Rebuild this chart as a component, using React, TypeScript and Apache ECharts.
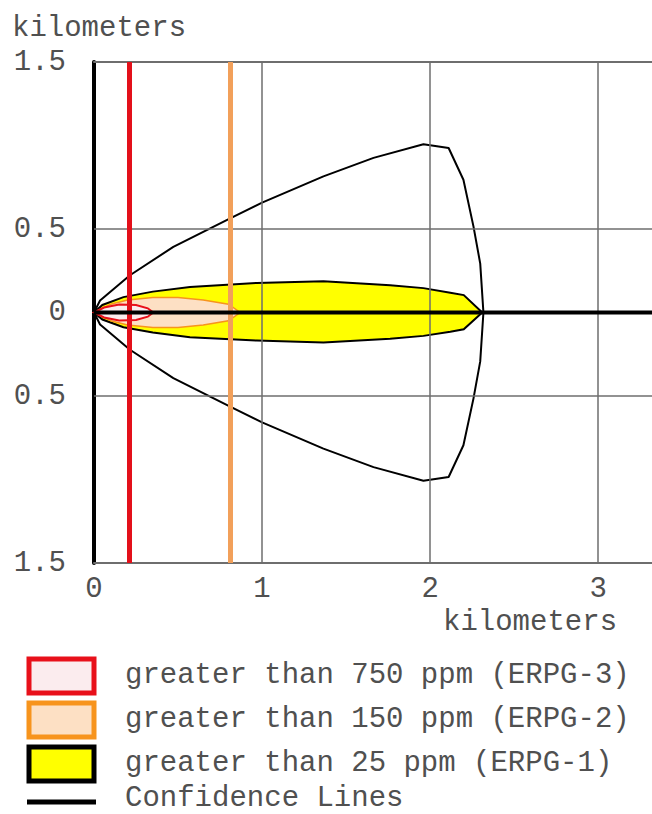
import React, { useEffect, useRef } from "react";
import * as echarts from "echarts";

// ---- data ----
const xTicks = [0, 1, 2, 3];
const yTicks = [-1.5, -0.5, 0, 0.5, 1.5];
const X_MAX = 3.32;
const Y_MIN = -1.5;
const Y_MAX = 1.5;
const xAxisName = "kilometers";
const yAxisName = "kilometers";

const erpg3LineX = 0.208;
const erpg2LineX = 0.815;

const confidenceUpper: number[][] = [
  [0, 0], [0.036, 0.072], [0.214, 0.223], [0.472, 0.393], [0.81, 0.564],
  [1.0, 0.658], [1.365, 0.815], [1.663, 0.926], [1.96, 1.008], [2.11, 0.985],
  [2.198, 0.795], [2.258, 0.514], [2.298, 0.293], [2.317, 0],
];
const confidenceLower: number[][] = [
  [2.317, 0], [2.298, -0.293], [2.258, -0.514], [2.198, -0.795], [2.11, -0.985],
  [1.96, -1.008], [1.663, -0.926], [1.365, -0.815], [1.0, -0.658], [0.81, -0.564],
  [0.472, -0.393], [0.214, -0.223], [0.036, -0.072], [0, 0],
];

const erpg1Upper: number[][] = [
  [0, 0], [0.05, 0.045], [0.175, 0.092], [0.35, 0.125], [0.571, 0.152],
  [0.968, 0.177], [1.365, 0.187], [1.762, 0.163], [1.96, 0.146], [2.12, 0.118],
  [2.2, 0.104], [2.31, 0],
];
const erpg1Lower: number[][] = [
  [2.31, 0], [2.2, -0.1], [2.12, -0.115], [1.96, -0.14], [1.762, -0.157],
  [1.365, -0.18], [0.968, -0.168], [0.571, -0.148], [0.35, -0.12], [0.175, -0.088],
  [0.05, -0.042], [0, 0],
];

const erpg2Upper: number[][] = [
  [0, 0], [0.1, 0.05], [0.2, 0.075], [0.35, 0.09], [0.5, 0.09],
  [0.65, 0.075], [0.8, 0.05], [0.87, 0],
];
const erpg2Lower: number[][] = [
  [0.87, 0], [0.8, -0.05], [0.65, -0.075], [0.5, -0.09], [0.35, -0.09],
  [0.2, -0.075], [0.1, -0.05], [0, 0],
];

const erpg3Upper: number[][] = [
  [0, 0], [0.06, 0.03], [0.15, 0.048], [0.25, 0.045], [0.32, 0.025], [0.353, 0],
];
const erpg3Lower: number[][] = [
  [0.353, 0], [0.32, -0.025], [0.25, -0.045], [0.15, -0.048], [0.06, -0.03], [0, 0],
];

const centerline: number[][] = [[0, 0], [X_MAX, 0]];

const legendItems = [
  { label: "greater than 750 ppm (ERPG-3)", stroke: "#e8101a", fill: "#fbecee" },
  { label: "greater than 150 ppm (ERPG-2)", stroke: "#f7941d", fill: "#fde0c4" },
  { label: "greater than 25 ppm (ERPG-1)", stroke: "#000000", fill: "#ffff00" },
];
const confidenceLabel = "Confidence Lines";

// ---- styles ----
const FONT = "'Liberation Mono', 'DejaVu Sans Mono', monospace";
const TEXT_COLOR = "#505050";
const GRID_COLOR = "#6e6e6e";

function polySeries(name: string, pts: number[][], fill: string, stroke: string, lw: number, z: number) {
  return {
    type: "custom",
    name,
    z,
    silent: true,
    coordinateSystem: "cartesian2d",
    data: pts,
    encode: { x: 0, y: 1 },
    renderItem: (params: any, api: any) => {
      if (params.dataIndex !== 0) return null;
      const points = pts.map((p) => api.coord(p));
      return {
        type: "polygon",
        shape: { points },
        style: { fill, stroke, lineWidth: lw },
      };
    },
  };
}

export default function App() {
  const ref = useRef<HTMLDivElement>(null);
  useEffect(() => {
    if (!ref.current) return;
    const chart = echarts.init(ref.current, null, { renderer: "svg" });

    const legendGraphics: any[] = [];
    legendItems.forEach((it, i) => {
      const top = 659 + i * 44;
      legendGraphics.push({
        type: "rect",
        shape: { x: 29, y: top, width: 65, height: 34 },
        style: { fill: it.fill, stroke: it.stroke, lineWidth: 5 },
      });
      legendGraphics.push({
        type: "text",
        x: 125,
        y: top + 16,
        style: {
          text: it.label,
          font: `29px ${FONT}`,
          fill: TEXT_COLOR,
          textVerticalAlign: "middle",
        },
      });
    });
    legendGraphics.push({
      type: "line",
      shape: { x1: 27, y1: 802, x2: 96, y2: 802 },
      style: { stroke: "#000", lineWidth: 5 },
    });
    legendGraphics.push({
      type: "text",
      x: 125,
      y: 813,
      style: {
        text: confidenceLabel,
        font: `29px ${FONT}`,
        fill: TEXT_COLOR,
        textVerticalAlign: "bottom",
      },
    });

    const option: any = {
      animation: false,
      backgroundColor: "#ffffff",
      grid: { left: 94, top: 62, right: 0, bottom: 251, containLabel: false },
      xAxis: [
        {
          type: "value",
          min: 0,
          max: X_MAX,
          interval: 1,
          axisLine: { show: true, onZero: false, lineStyle: { color: GRID_COLOR, width: 2 } },
          axisTick: { show: false },
          splitLine: { show: false },
          axisLabel: {
            margin: 12,
            showMaxLabel: false,
            fontFamily: FONT,
            fontSize: 29,
            color: TEXT_COLOR,
            formatter: (v: number) => (xTicks.includes(v) ? String(v) : ""),
          },
        },
        {
          type: "value",
          position: "top",
          min: 0,
          max: X_MAX,
          axisLine: { show: true, onZero: false, lineStyle: { color: GRID_COLOR, width: 2 } },
          axisTick: { show: false },
          splitLine: { show: false },
          axisLabel: { show: false },
        },
      ],
      yAxis: {
        type: "value",
        min: Y_MIN,
        max: Y_MAX,
        interval: 0.5,
        axisLine: { show: true, onZero: false, lineStyle: { color: "#000", width: 4 } },
        axisTick: { show: false },
        splitLine: { show: false },
        axisLabel: {
          margin: 28,
          customValues: yTicks,
          fontFamily: FONT,
          fontSize: 29,
          color: TEXT_COLOR,
          formatter: (v: number) => (yTicks.includes(v) ? String(Math.abs(v)) : ""),
        },
      },
      graphic: [
        {
          type: "text",
          x: 12,
          y: 28,
          style: { text: yAxisName, font: `29px ${FONT}`, fill: TEXT_COLOR, textVerticalAlign: "middle" },
        },
        {
          type: "text",
          x: 443,
          y: 622,
          style: { text: xAxisName, font: `29px ${FONT}`, fill: TEXT_COLOR, textVerticalAlign: "middle" },
        },
        ...legendGraphics,
      ],
      series: [
        polySeries("ERPG-1", erpg1Upper.concat(erpg1Lower), "#ffff00", "#000000", 2, 1),
        polySeries("ERPG-2", erpg2Upper.concat(erpg2Lower), "#fde0c4", "#f7941d", 1.5, 2),
        polySeries("ERPG-3", erpg3Upper.concat(erpg3Lower), "#fbecee", "#e8101a", 2, 3),
        {
          type: "line",
          name: "Confidence Lines",
          data: confidenceUpper.concat(confidenceLower),
          showSymbol: false,
          symbol: "none",
          z: 4,
          silent: true,
          lineStyle: { color: "#000", width: 2 },
        },
        {
          type: "line",
          name: "centerline",
          data: centerline,
          showSymbol: false,
          symbol: "none",
          z: 6,
          silent: true,
          lineStyle: { color: "#000", width: 4 },
          markLine: {
            silent: true,
            symbol: "none",
            label: { show: false },
            z: 5,
            data: [
              { xAxis: 1, lineStyle: { color: GRID_COLOR, width: 1.5, type: "solid" } },
              { xAxis: 2, lineStyle: { color: GRID_COLOR, width: 1.5, type: "solid" } },
              { xAxis: 3, lineStyle: { color: GRID_COLOR, width: 1.5, type: "solid" } },
              { yAxis: 0.5, lineStyle: { color: GRID_COLOR, width: 1.5, type: "solid" } },
              { yAxis: -0.5, lineStyle: { color: GRID_COLOR, width: 1.5, type: "solid" } },
              { xAxis: erpg3LineX, lineStyle: { color: "#e3101a", width: 5, type: "solid" } },
              { xAxis: erpg2LineX, lineStyle: { color: "#f2a05a", width: 5, type: "solid" } },
            ],
          },
        },
      ],
    };
    chart.setOption(option);
    return () => chart.dispose();
  }, []);

  return (
    <div
      ref={ref}
      style={{ position: "absolute", left: 0, top: 0, width: 652, height: 814, background: "#fff" }}
    />
  );
}
